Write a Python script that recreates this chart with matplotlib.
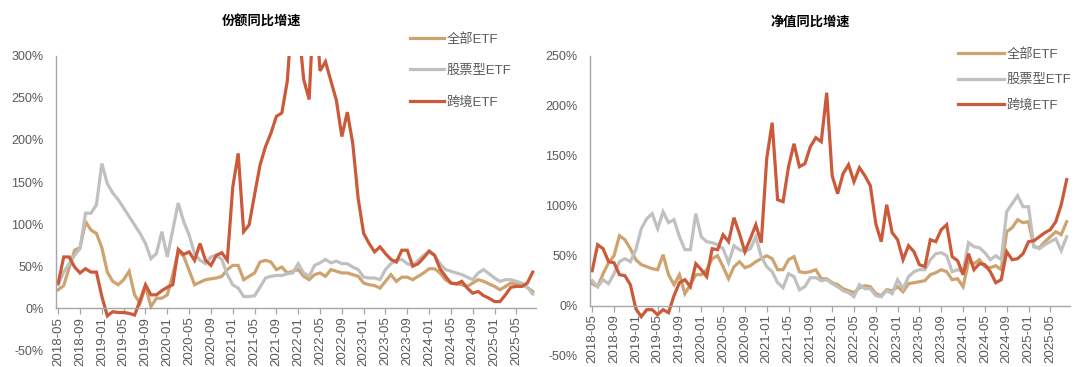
import numpy as np
import pandas as pd
import matplotlib
matplotlib.use("Agg")
import matplotlib.pyplot as plt
from matplotlib.ticker import FuncFormatter

plt.rcParams['font.family'] = ['Liberation Sans', 'Noto Sans CJK SC', 'DejaVu Sans']

# monthly categories 2018-05 .. 2025-08
months = pd.date_range("2018-05-01", periods=88, freq="MS").strftime("%Y-%m").tolist()

series_names = ["全部ETF", "股票型ETF", "跨境ETF"]

# 份额同比增速 (%)
share_all = [22, 27, 48, 69, 72, 103, 93, 89, 72, 43,
             32, 28, 34, 44, 16, 6, 26, 2, 12, 12,
             16, 40, 67, 62, 45, 28, 31, 34, 35, 36,
             38, 46, 51, 51, 34, 38, 42, 55, 57, 55,
             46, 49, 42, 44, 46, 38, 34, 40, 42, 38,
             46, 44, 42, 42, 40, 38, 30, 28, 27, 24,
             32, 40, 32, 37, 37, 34, 38, 42, 47, 47,
             42, 34, 30, 29, 28, 26, 30, 34, 32, 29,
             26, 22, 26, 30, 29, 28, 25, 20]
share_stock = [28, 43, 53, 63, 71, 113, 113, 123, 172, 148,
               137, 129, 119, 109, 99, 89, 77, 59, 65, 91,
               61, 93, 125, 103, 87, 65, 57, 53, 61, 63,
               58, 40, 28, 24, 14, 14, 15, 25, 36, 38,
               39, 39, 41, 42, 53, 42, 38, 51, 54, 58,
               54, 56, 53, 53, 49, 46, 37, 36, 36, 34,
               46, 53, 57, 58, 53, 51, 57, 63, 67, 63,
               53, 46, 44, 42, 40, 37, 34, 42, 46, 41,
               36, 32, 34, 34, 32, 30, 25, 17]
share_cross = [30, 61, 61, 49, 42, 47, 43, 43, 14, -9,
               -4, -5, -5, -6, -8, 9, 28, 16, 16, 21,
               25, 28, 70, 64, 67, 57, 77, 57, 51, 63,
               66, 57, 144, 184, 91, 99, 135, 170, 192, 208,
               228, 232, 270, 360, 340, 272, 248, 380, 282, 293,
               270, 247, 204, 233, 196, 130, 89, 77, 67, 73,
               65, 58, 55, 69, 69, 50, 53, 60, 68, 63,
               47, 38, 30, 29, 32, 24, 18, 20, 15, 12,
               8, 8, 16, 25, 26, 26, 30, 43]

# 净值同比增速 (%)
nav_all = [22, 19, 32, 43, 50, 70, 66, 57, 46, 41,
           39, 37, 36, 51, 31, 21, 31, 12, 21, 31,
           31, 36, 47, 50, 39, 27, 39, 44, 38, 40,
           44, 47, 50, 47, 36, 36, 46, 49, 34, 33,
           34, 36, 27, 27, 23, 21, 17, 15, 13, 18,
           20, 19, 12, 10, 16, 15, 19, 14, 22, 23,
           24, 25, 31, 33, 36, 34, 26, 27, 19, 44,
           42, 46, 39, 38, 40, 36, 74, 78, 86, 83,
           84, 59, 58, 64, 69, 74, 71, 84]
nav_stock = [25, 19, 26, 22, 32, 44, 47, 44, 56, 77,
             87, 92, 77, 94, 83, 86, 69, 56, 56, 92,
             69, 64, 63, 61, 57, 43, 60, 56, 54, 57,
             69, 49, 39, 34, 23, 18, 32, 29, 16, 19,
             28, 28, 25, 26, 22, 19, 15, 13, 9, 21,
             17, 17, 10, 9, 15, 12, 26, 17, 29, 34,
             36, 36, 46, 52, 53, 50, 34, 36, 34, 63,
             59, 58, 53, 46, 50, 46, 94, 102, 110, 99,
             99, 59, 57, 61, 64, 67, 55, 69]
nav_cross = [35, 61, 57, 44, 43, 31, 30, 21, -3, -11,
             -4, -4, -9, -4, -7, 10, 23, 26, 19, 42,
             36, 29, 57, 56, 71, 64, 88, 72, 54, 67,
             81, 63, 147, 183, 106, 104, 139, 162, 139, 142,
             159, 168, 164, 213, 130, 112, 132, 141, 124, 138,
             130, 120, 82, 64, 101, 73, 66, 46, 60, 54,
             41, 39, 66, 64, 76, 81, 49, 45, 31, 52,
             36, 42, 41, 34, 23, 26, 54, 46, 47, 52,
             64, 65, 69, 73, 76, 84, 101, 126]

colors = ["#CDA36F", "#C0C0C0", "#CB5A3B"]
axis_grey = "#A6A6A6"
text_grey = "#595959"

fig = plt.figure(figsize=(10.8, 3.67), dpi=100)
ax1 = fig.add_axes([0.0519, 0.0452, 0.4444, 0.803])
ax2 = fig.add_axes([0.5463, 0.0308, 0.4444, 0.8174])


def draw(ax, data, ymax, title, title_x, leg_xy, leg_spacing, leg_handle):
    x = np.arange(len(months))
    for vals, name, c in zip(data, series_names, colors):
        ax.plot(x, vals, color=c, lw=2.3, label=name, solid_joinstyle="miter")

    for s in ["top", "right"]:
        ax.spines[s].set_visible(False)
    # x axis crosses at 0 (this resets ticks, so tick settings come after)
    ax.spines["bottom"].set_position(("data", 0))
    ax.spines["left"].set_bounds(0, ymax)
    for s in ["bottom", "left"]:
        ax.spines[s].set_color(axis_grey)
        ax.spines[s].set_linewidth(1.0)

    ax.set_xlim(-0.4, 87.6)
    ax.set_ylim(-50, ymax)
    ax.set_yticks(np.arange(-50, ymax + 1, 50))
    ax.yaxis.set_major_formatter(FuncFormatter(lambda v, p: f"{v:.0f}%"))
    ax.set_xticks(x[::4])
    ax.set_xticklabels(months[::4])

    ax.tick_params(axis="y", length=0, pad=9, labelsize=9, labelcolor=text_grey)
    ax.tick_params(axis="x", length=4, width=0.9, color=axis_grey, pad=2,
                   labelsize=9.5, labelcolor=text_grey, labelrotation=90)

    fig.text(title_x, 0.94, title, ha="center", va="center", fontsize=9.5,
             fontweight="bold", color="black")

    ax.legend(loc="upper left", bbox_to_anchor=leg_xy, bbox_transform=fig.transFigure,
              frameon=False, borderpad=0, borderaxespad=0, fontsize=9.5,
              handlelength=leg_handle, handletextpad=0.2, labelspacing=leg_spacing,
              labelcolor=text_grey)


draw(ax1, [share_all, share_stock, share_cross], 300, "份额同比增速", 262 / 1080,
     (410 / 1080, 1 - 33 / 367), 1.45, 2.6)
draw(ax2, [nav_all, nav_stock, nav_cross], 250, "净值同比增速", 810 / 1080,
     (958 / 1080, 1 - 48 / 367), 1.0, 3.5)

fig.savefig("out.png", dpi=100)
